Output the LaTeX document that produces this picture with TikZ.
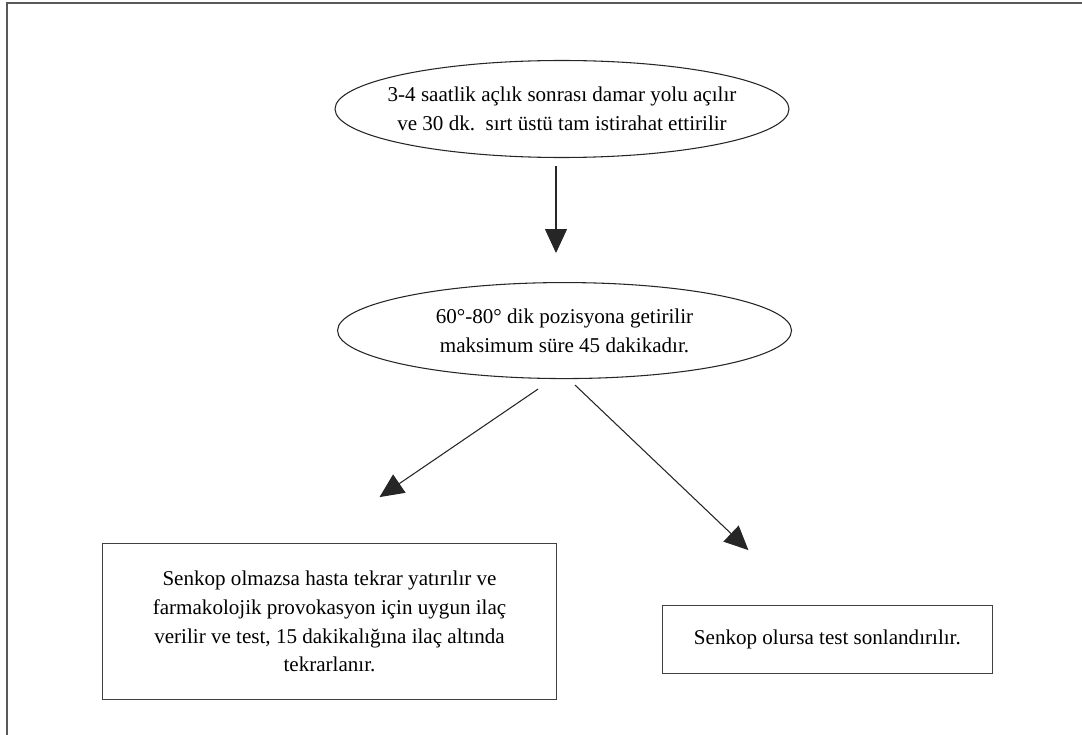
\documentclass[tikz,border=0pt]{standalone}
\usepackage{fontspec}
\setmainfont{Liberation Serif}
\newfontfamily\flowfont{Liberation Serif}
\usepackage{tikz}
\usetikzlibrary{shapes.geometric, arrows.meta, positioning}

\begin{document}
\begin{tikzpicture}[
  stage/.style={ellipse, draw=black!85, line width=0.8pt, minimum width=340.5pt, minimum height=72.75pt, inner xsep=-12pt, inner ysep=0pt, align=center, font=\flowfont\fontsize{15.8}{21.75}\selectfont},
  outcome/.style={rectangle, draw=black!75, line width=0.8pt, align=center, font=\flowfont\fontsize{15.8}{21.5}\selectfont},
  arrow/.style={-{Triangle[length=18pt, width=16.5pt]}, line width=0.8pt, black!85}
]
  \useasboundingbox (-421.5pt,81.75pt) rectangle (390pt,-469.5pt);
  \draw[black!65, line width=1.2pt] (-416.25pt,-480pt) |- (400pt,79.5pt);

  \node[stage] (fasting) {3-4 saatlik açlık sonrası damar yolu açılır\\ve 30 dk.\ \ sırt üstü tam istirahat ettirilir};
  \node[stage, below=93pt of fasting, xshift=1.9pt, minimum height=72pt] (tilt) {60°-80° dik pozisyona getirilir\\maksimum süre 45 dakikadır.};

  \node[outcome, below left=123pt and 5.6pt of tilt.south, minimum width=340.5pt, minimum height=117pt] (drug) {Senkop olmazsa hasta tekrar yatırılır ve\\farmakolojik provokasyon için uygun ilaç\\verilir ve test, 15 dakikalığına ilaç altında\\tekrarlanır.};
  \node[outcome, below right=169.5pt and 73pt of tilt.south, minimum width=247.5pt, minimum height=51pt] (stop) {Senkop olursa test sonlandırılır.};

  \coordinate (tailL) at ([xshift=-19.9pt, yshift=-7.5pt]tilt.south);
  \coordinate (tipL) at ([xshift=37.5pt, yshift=34.5pt]drug.north);
  \coordinate (tailR) at ([xshift=7.9pt, yshift=-4.5pt]tilt.south);
  \coordinate (tipR) at ([xshift=-59.25pt, yshift=41.25pt]stop.north);

  \draw[arrow, shorten <=6pt, shorten >=21.75pt] ([xshift=-4.5pt]fasting.south) -- ([xshift=-4.5pt]fasting.south |- tilt.north);
  \draw[arrow] (tailL) -- (tipL);
  \draw[arrow] (tailR) -- (tipR);

\end{tikzpicture}
\end{document}
